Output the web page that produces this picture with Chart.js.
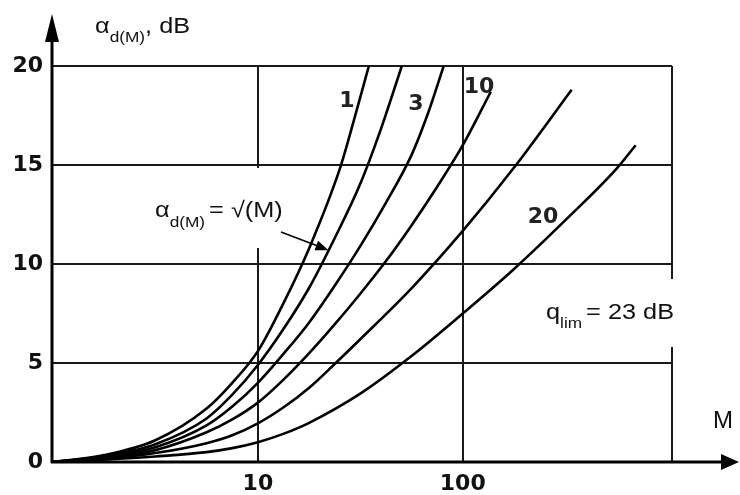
<!DOCTYPE html>
<html><head><meta charset="utf-8">
<script src="https://cdn.jsdelivr.net/npm/chart.js@4/dist/chart.umd.min.js"></script>
<style>html,body{margin:0;padding:0;background:#fff}#wrap{width:740px;height:495px}</style>
</head><body><div id="wrap"><canvas id="c" width="740" height="495"></canvas></div>
<script>
// ---- data ----
const xTicks = [10, 100];
const yTicks = [0, 5, 10, 15, 20];
const curveNames = ['1', '2', '3', '10', '15', '20'];
const curveLabels = ['1', '3', '10', '20'];

const m1 = [1, 1.78, 3.16, 5.62, 7.5, 10, 13.3, 17.8, 25.1, 29.5, 34.8];
const a1 = [0, 0.35, 1.1, 2.7, 4.0, 5.6, 8.0, 10.8, 14.8, 17.3, 20];

const m2 = [1, 1.78, 3.16, 5.62, 7.5, 10, 13.3, 17.8, 23.7, 31.6, 39.8, 50.4];
const a2 = [0, 0.3, 0.9, 2.2, 3.4, 4.9, 6.7, 8.8, 11.3, 14.05, 16.8, 20];

const m3 = [1, 1.78, 3.16, 5.62, 7.5, 10, 13.3, 17.8, 23.7, 31.6, 42.2, 56.2, 67.6, 80.7];
const a3 = [0, 0.25, 0.75, 1.85, 2.8, 4.0, 5.45, 7.05, 8.9, 10.9, 13.1, 15.5, 17.6, 20];

const m4 = [1, 1.78, 3.16, 5.62, 7.5, 10, 13.3, 17.8, 23.7, 31.6, 42.2, 56.2, 75, 100, 137];
const a4 = [0, 0.2, 0.6, 1.5, 2.15, 3.0, 4.15, 5.5, 6.95, 8.5, 10.15, 11.95, 13.9, 16.0, 18.7];

const m5 = [1, 1.78, 3.16, 5.62, 7.5, 10, 13.3, 17.8, 23.7, 31.6, 56.2, 100, 178, 340];
const a5 = [0, 0.15, 0.45, 0.95, 1.35, 1.95, 2.75, 3.75, 4.95, 6.2, 8.77, 11.67, 14.87, 18.8];

const m6 = [1, 1.78, 3.16, 5.62, 7.5, 10, 13.3, 17.8, 31.6, 56.2, 100, 178, 316, 562, 698];
const a6 = [0, 0.12, 0.28, 0.5, 0.7, 1.0, 1.42, 1.98, 3.45, 5.35, 7.5, 9.75, 12.2, 14.8, 16.0];

const xMin = 1, xMax = 1050, yMin = 0, yMax = 20;

// ---- build ----
const allM = [m1, m2, m3, m4, m5, m6];
const allA = [a1, a2, a3, a4, a5, a6];
const datasets = allM.map((ms, i) => ({
  label: curveNames[i],
  data: ms.map((m, j) => ({x: m, y: allA[i][j]})),
  borderColor: '#000',
  borderWidth: 2.6,
  pointRadius: 0,
  fill: false,
  cubicInterpolationMode: 'monotone'
}));

function stxt(ctx, s, x, y, size, sx) {
  ctx.save();
  ctx.font = size + 'px "Liberation Sans", Arial, sans-serif';
  ctx.translate(x, y);
  ctx.scale(sx, 1);
  ctx.fillText(s, 0, 0);
  const w = ctx.measureText(s).width * sx;
  ctx.restore();
  return w;
}

const deco = {
  id: 'deco',
  beforeDatasetsDraw(chart) {
    const {ctx, scales: {x, y}} = chart;
    const S = 1.15;
    ctx.save();
    // right border
    ctx.strokeStyle = '#1a1a1a'; ctx.lineWidth = 2;
    ctx.beginPath();
    ctx.moveTo(x.getPixelForValue(xMax), y.getPixelForValue(yMax));
    ctx.lineTo(x.getPixelForValue(xMax), y.getPixelForValue(yMin));
    ctx.stroke();
    // white label backgrounds
    ctx.fillStyle = '#fff';
    ctx.fillRect(140, 168, 160, 80);
    ctx.fillRect(535, 279, 160, 68);
    // axes with arrows
    const x0 = x.left - 1, y0 = y.getPixelForValue(0);
    ctx.strokeStyle = '#000'; ctx.fillStyle = '#000'; ctx.lineWidth = 3;
    ctx.beginPath(); ctx.moveTo(x0, y0 + 1); ctx.lineTo(x0, 40); ctx.stroke();
    ctx.beginPath(); ctx.moveTo(x0, 14); ctx.lineTo(x0 - 7, 42); ctx.lineTo(x0 + 7, 42); ctx.closePath(); ctx.fill();
    ctx.beginPath(); ctx.moveTo(x0 - 1, y0); ctx.lineTo(724, y0); ctx.stroke();
    ctx.beginPath(); ctx.moveTo(739, y0); ctx.lineTo(721, y0 - 8); ctx.lineTo(721, y0 + 8); ctx.closePath(); ctx.fill();

    // texts
    ctx.fillStyle = '#111';
    ctx.textBaseline = 'alphabetic'; ctx.textAlign = 'left';
    let px = 95;
    px += stxt(ctx, 'α', px, 33, 22, S);
    px += stxt(ctx, 'd(M)', px, 42, 15, S);
    stxt(ctx, ', dB', px, 33, 22, S);

    px = 155;
    px += stxt(ctx, 'α', px, 217, 22, S);
    px += stxt(ctx, 'd(M)', px, 227, 15, S) + 4;
    stxt(ctx, '= √(M)', px, 217, 22, S);

    px = 546;
    px += stxt(ctx, 'q', px, 319, 22, S);
    px += stxt(ctx, 'lim', px, 328, 15, S) + 4;
    stxt(ctx, '= 23 dB', px, 319, 22, S);

    stxt(ctx, 'M', 713, 428, 24, 1.0);

    // curve labels
    ctx.font = 'bold 22px "DejaVu Sans", sans-serif';
    ctx.fillStyle = '#222'; ctx.textAlign = 'center';
    ctx.fillText(curveLabels[0], 347, 107);
    ctx.fillText(curveLabels[1], 416, 110);
    ctx.fillText(curveLabels[2], 479, 93);
    ctx.fillText(curveLabels[3], 543, 223);
    ctx.restore();
  },
  afterDatasetsDraw(chart) {
    const {ctx, scales: {x, y}} = chart;
    // pointer from formula label to curve 2
    const tx = x.getPixelForValue(22.1), ty = y.getPixelForValue(10.7);
    const sx = 281, sy = 232;
    const ang = Math.atan2(ty - sy, tx - sx);
    ctx.save();
    ctx.strokeStyle = '#000'; ctx.fillStyle = '#000'; ctx.lineWidth = 1.6;
    ctx.beginPath(); ctx.moveTo(sx, sy); ctx.lineTo(tx - 10 * Math.cos(ang), ty - 10 * Math.sin(ang)); ctx.stroke();
    ctx.beginPath();
    ctx.moveTo(tx, ty);
    ctx.lineTo(tx - 13 * Math.cos(ang) + 5 * Math.sin(ang), ty - 13 * Math.sin(ang) - 5 * Math.cos(ang));
    ctx.lineTo(tx - 13 * Math.cos(ang) - 5 * Math.sin(ang), ty - 13 * Math.sin(ang) + 5 * Math.cos(ang));
    ctx.closePath(); ctx.fill();
    ctx.restore();
  }
};

const tickFont = {family: '"DejaVu Sans", sans-serif', weight: 'bold', size: 22};

new Chart(document.getElementById('c'), {
  type: 'line',
  data: {datasets},
  plugins: [deco],
  options: {
    responsive: false,
    devicePixelRatio: 1,
    animation: false,
    layout: {padding: {top: 66, right: 68, left: 0, bottom: 0}},
    plugins: {legend: {display: false}, tooltip: {enabled: false}},
    scales: {
      x: {
        type: 'logarithmic', min: xMin, max: xMax,
        afterBuildTicks: s => { s.ticks = xTicks.map(v => ({value: v})); },
        afterFit: s => { s.height = 33; },
        ticks: {font: tickFont, color: '#111', padding: 9, maxRotation: 0, autoSkip: false,
                callback: v => String(v)},
        grid: {color: '#1a1a1a', lineWidth: 2, drawTicks: false},
        border: {display: false}
      },
      y: {
        type: 'linear', min: yMin, max: yMax,
        afterBuildTicks: s => { s.ticks = yTicks.map(v => ({value: v})); },
        afterFit: s => { s.width = 53; },
        ticks: {font: tickFont, color: '#111', padding: 10},
        grid: {color: '#1a1a1a', lineWidth: 2, drawTicks: false},
        border: {display: false}
      }
    }
  }
});
</script></body></html>
